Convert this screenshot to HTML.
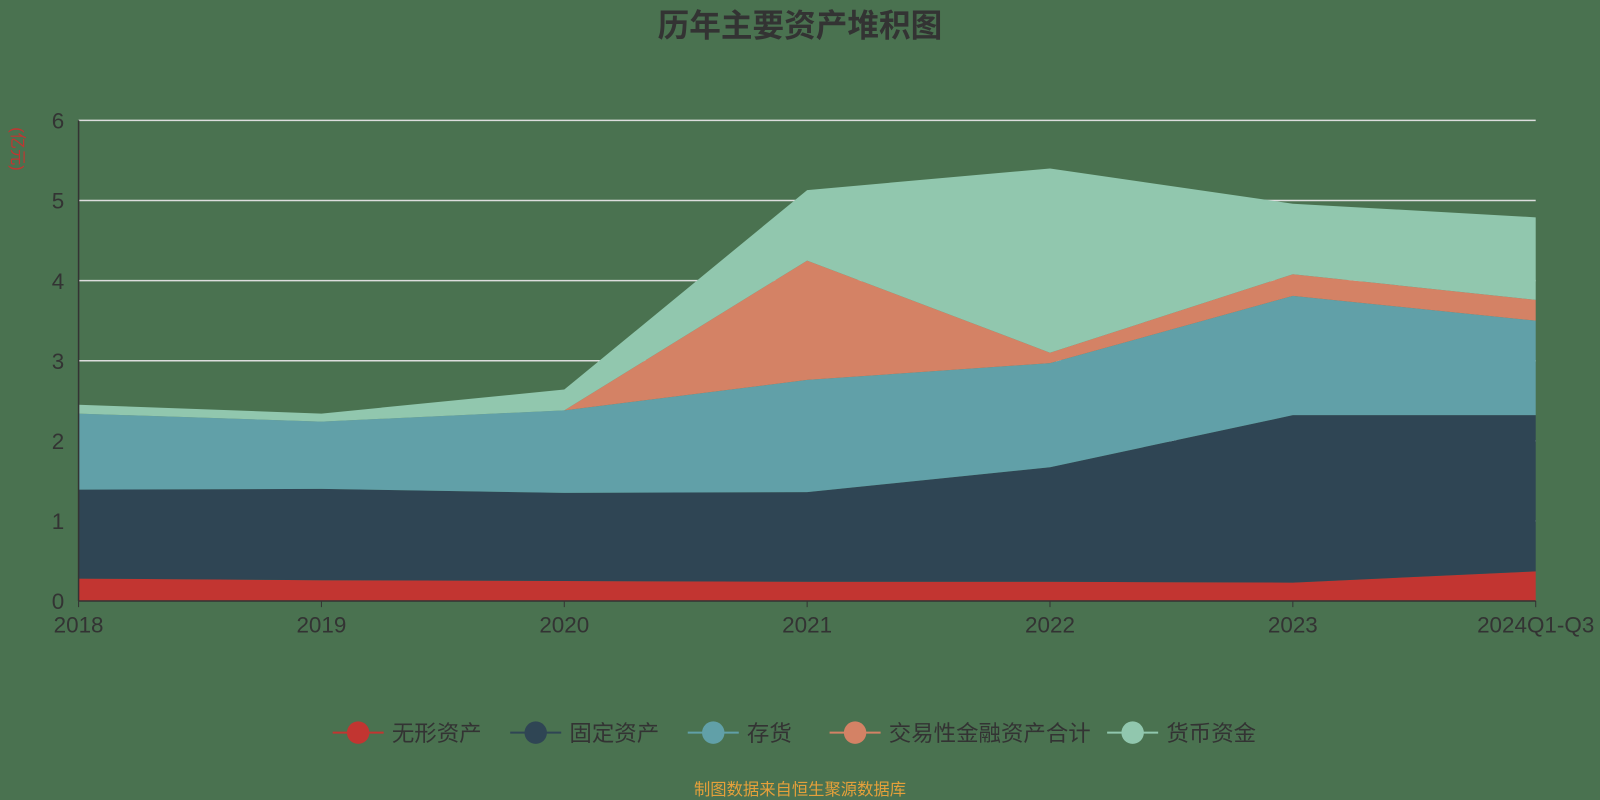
<!DOCTYPE html>
<html><head><meta charset="utf-8"><style>
html,body{margin:0;padding:0;background:#4a7250;width:1600px;height:800px;overflow:hidden}
svg{display:block;font-family:"Liberation Sans","Noto Sans CJK SC",sans-serif}
</style></head><body>
<svg id="chart" width="1600" height="800">
<rect width="1600" height="800" fill="#4a7250"/>
<g transform="scale(1.0204)">
<text x="784" y="36" text-anchor="middle" font-size="31" font-weight="bold" fill="#333">历年主要资产堆积图</text>
<text transform="translate(12,146) rotate(90)" text-anchor="middle" font-size="16" fill="#c23531">(亿元)</text>
<g id="grid"></g><g id="areas"></g><g id="axes"></g><g id="legend"></g>
<text x="784" y="779" text-anchor="middle" font-size="16" fill="#e5a03a">制图数据来自恒生聚源数据库</text>
</g>
</svg>
<script>
const categories=["2018","2019","2020","2021","2022","2023","2024Q1-Q3"];
const seriesNames=["无形资产","固定资产","存货","交易性金融资产合计","货币资金"];
const intangible=[0.28,0.26,0.25,0.24,0.24,0.23,0.37];
const fixedAssets=[1.11,1.14,1.10,1.12,1.43,2.09,1.95];
const inventory=[0.95,0.84,1.03,1.40,1.30,1.49,1.18];
const tradingAssets=[0,0,0,1.49,0.13,0.27,0.26];
const cash=[0.11,0.10,0.26,0.88,2.30,0.88,1.03];
const yTicks=[0,1,2,3,4,5,6];
const colors=["#c23531","#2f4554","#61a0a8","#d48265","#91c7ae"];
const NS="http://www.w3.org/2000/svg";
const x0=77,x1=1505,yb=589,yt=118,ymax=6;
const X=i=>x0+(x1-x0)*i/(categories.length-1);
const Y=v=>yb-(yb-yt)*v/ymax;
function mk(t,a,p){const e=document.createElementNS(NS,t);for(const k in a)e.setAttribute(k,a[k]);p.appendChild(e);return e;}
const grid=document.getElementById('grid'),areas=document.getElementById('areas'),axes=document.getElementById('axes'),legend=document.getElementById('legend');
yTicks.forEach(v=>{
 if(v>0){const l=mk('line',{x1:x0,x2:x1,y1:Y(v),y2:Y(v),stroke:'#ddd','stroke-width':1.5},grid);
 
 }
 const t=mk('text',{x:x0-14,y:Y(v)+8,'text-anchor':'end','font-size':22,fill:'#333'},axes);t.textContent=v;
 
 
});
const all=[intangible,fixedAssets,inventory,tradingAssets,cash];
let base=categories.map(()=>0);
all.forEach((s,si)=>{
 const top=base.map((b,i)=>b+s[i]);
 let d='M'+categories.map((c,i)=>X(i)+','+Y(top[i])).join('L');
 for(let i=categories.length-1;i>=0;i--)d+='L'+X(i)+','+Y(base[i]);
 const p=mk('path',{d:d+'Z',fill:colors[si]},areas);
 
 
 base=top;
});
mk('line',{x1:x0,x2:x0,y1:yt,y2:yb,stroke:'#333','stroke-width':1.5},axes);
mk('line',{x1:x0,x2:x1,y1:yb,y2:yb,stroke:'#333','stroke-width':1.5},axes);
categories.forEach((c,i)=>{
 mk('line',{x1:X(i),x2:X(i),y1:yb,y2:yb+6,stroke:'#333'},axes);
 const t=mk('text',{x:X(i),y:yb+31,'text-anchor':'middle','font-size':22,fill:'#333'},axes);t.textContent=c;
 
 
});
const lx=[326,500,674,813,1085];
seriesNames.forEach((n,i)=>{
 const g=mk('g',{},legend);
 
 
 mk('line',{x1:lx[i],x2:lx[i]+50,y1:718,y2:718,stroke:colors[i],'stroke-width':2},g);
 mk('circle',{cx:lx[i]+25,cy:718,r:11,fill:colors[i]},g);
 const t=mk('text',{x:lx[i]+58,y:726,'font-size':22,fill:'#333'},g);t.textContent=n;
});
</script>
</body></html>
